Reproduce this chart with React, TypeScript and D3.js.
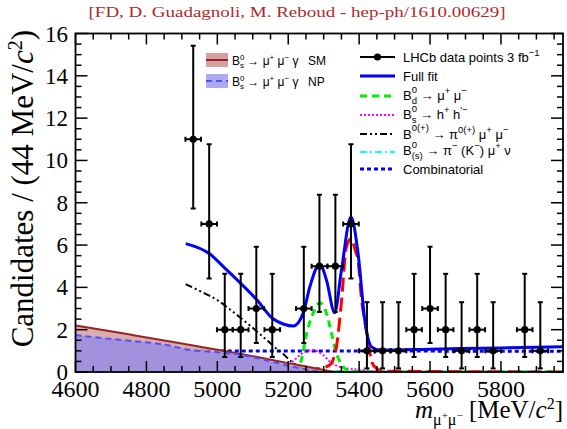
import React from 'react';
import * as d3 from 'd3';

// LHCb B(s) -> mu mu candidates with the B_s -> mu mu gamma contributions overlaid

const binCenters = [4932, 4977, 5021, 5066, 5110, 5155, 5244, 5288, 5333, 5377, 5422, 5466, 5511, 5555, 5600, 5644, 5689, 5733, 5778, 5867, 5911];
const counts = [11, 7, 2, 2, 3, 2, 3, 5, 5, 7, 1, 1, 1, 2, 3, 2, 1, 2, 1, 2, 1];
const errLow = [3.27, 2.58, 1.29, 1.29, 1.63, 1.29, 1.63, 2.16, 2.16, 2.58, 0.83, 0.83, 0.83, 1.29, 1.63, 1.29, 0.83, 1.29, 0.83, 1.29, 0.83];
const errHigh = [4.42, 3.77, 2.64, 2.64, 2.92, 2.64, 2.92, 3.38, 3.38, 3.77, 2.3, 2.3, 2.3, 2.64, 2.92, 2.64, 2.3, 2.64, 2.3, 2.64, 2.3];
const binHalf = 22;

const fullFit = [
  [4911, 6.07], [4977, 5.6], [5022, 4.9], [5066, 4.19], [5112, 3.4], [5156, 2.53], [5186, 2.27],
  [5214, 2.17], [5242, 2.77], [5261, 4.03], [5289, 5.1], [5308, 4.34], [5331, 2.8], [5350, 4.8],
  [5377, 7.33], [5397, 5.6], [5416, 2.45], [5435, 1.19], [5458, 1.04], [5600, 1.08], [5800, 1.14], [5975, 1.19],
];
const bdMuMu = [
  [4911, 0], [5180, 0.01], [5221, 0.05], [5237, 0.57], [5252, 1.83], [5270, 2.77], [5289, 3.27],
  [5308, 2.77], [5322, 1.83], [5336, 0.88], [5355, 0.25], [5374, 0.05], [5420, 0], [5975, 0],
];
const bsMuMu = [
  [4911, 0.02], [5150, 0.04], [5250, 0.1], [5290, 0.17], [5317, 0.33], [5336, 1.2], [5350, 3.3],
  [5364, 5.9], [5377, 6.3], [5390, 5.7], [5397, 5.28], [5407, 3.4], [5416, 2.4], [5425, 1.5],
  [5435, 0.5], [5449, 0.17], [5470, 0.04], [5975, 0],
];
const bsHH = [
  [4911, 0.03], [5150, 0.1], [5190, 0.25], [5205, 0.38], [5220, 0.6], [5237, 0.85], [5255, 1.0],
  [5270, 1.04], [5285, 0.95], [5300, 0.78], [5317, 0.5], [5336, 0.3], [5355, 0.2], [5375, 0.15],
  [5410, 0.09], [5450, 0.04], [5500, 0.01], [5975, 0],
];
const bPiMuMu = [
  [4911, 4.15], [4960, 3.75], [5000, 3.4], [5040, 2.9], [5092, 2.2], [5130, 1.65], [5167, 1.1],
  [5186, 0.85], [5205, 0.55], [5225, 0.3], [5245, 0.12], [5270, 0.04], [5300, 0.01], [5975, 0],
];
const bPiMuNu = [
  [4911, 0.9], [5000, 0.75], [5100, 0.55], [5200, 0.3], [5280, 0.1], [5350, 0.04], [5975, 0.03],
];
const combinatorial = [[4911, 1.0], [5975, 0.98]];

const smGamma = [
  [4600, 2.2], [4750, 1.78], [4900, 1.35], [5000, 1.05], [5100, 0.75], [5200, 0.42], [5300, 0.1], [5330, 0],
];
const npGamma = [
  [4600, 1.75], [4650, 1.65], [4750, 1.48], [4850, 1.3], [4920, 1.05], [5000, 0.93], [5050, 0.85],
  [5100, 0.7], [5150, 0.5], [5200, 0.3], [5250, 0.12], [5300, 0.02],
];

const xTicks = [4600, 4800, 5000, 5200, 5400, 5600, 5800];
const yTicks = [0, 2, 4, 6, 8, 10, 12, 14, 16];

const W = 567, H = 429;
const PL = 75.5, PR = 563, PT = 33.5, PB = 372;

const SM_FILL = '#d4a0a0';
const NP_FILL = '#9a8ee4';

export default function App() {
  const x = d3.scaleLinear().domain([4600, 5975]).range([PL, PR]);
  const y = d3.scaleLinear().domain([0, 16]).range([PB, PT]);

  const line = d3.line<number[]>().x(d => x(d[0])).y(d => y(d[1])).curve(d3.curveMonotoneX);
  const area = d3.area<number[]>().x(d => x(d[0])).y0(y(0)).y1(d => y(d[1])).curve(d3.curveMonotoneX);

  const xMinor = d3.range(4600, 5976, 50);
  const yMinor = d3.range(0, 16.01, 0.5);

  const serif = '"Liberation Serif", "Times New Roman", serif';
  const sans = '"Liberation Sans", Arial, sans-serif';

  const lx0 = 360, lx1 = 395, tx = 403;
  const rows = [57, 76, 96, 115, 134, 152, 169];
  const fs = 13, ss = 9.5;

  return (
    <svg width={W} height={H} style={{ position: 'absolute', left: 0, top: 0, background: '#fff' }}>
      <defs>
        <clipPath id="plot">
          <rect x={PL} y={PT} width={PR - PL} height={PB - PT} />
        </clipPath>
      </defs>

      <text x={297} y={17} textAnchor="middle" fontFamily={serif} fontSize={15} fill="#b02a2a"
        textLength={417} lengthAdjust="spacingAndGlyphs">
        [FD, D. Guadagnoli, M. Reboud - hep-ph/1610.00629]
      </text>

      <g clipPath="url(#plot)">
        <path d={line(combinatorial) || ''} fill="none" stroke="#0000ff" strokeWidth={3} strokeDasharray="4,3" />
        <path d={line(bPiMuNu) || ''} fill="none" stroke="#00ffff" strokeWidth={2} strokeDasharray="7,3,2,3" />
        <path d={line(bPiMuMu) || ''} fill="none" stroke="#000" strokeWidth={2} strokeDasharray="7,3,2,3,2,3" />
        <path d={line(bsHH) || ''} fill="none" stroke="#ff00ff" strokeWidth={2} strokeDasharray="2,2" />
        <path d={line(bdMuMu) || ''} fill="none" stroke="#00ee00" strokeWidth={3} strokeDasharray="7,5" />
        <path d={line(bsMuMu) || ''} fill="none" stroke="#ff0000" strokeWidth={3} strokeDasharray="14,6" />

        <path d={area(smGamma) || ''} fill={SM_FILL} fillOpacity={0.85} />
        <path d={area(npGamma) || ''} fill={NP_FILL} fillOpacity={0.88} />
        <path d={line(smGamma) || ''} fill="none" stroke="#9a2222" strokeWidth={2} />
        <path d={line(npGamma) || ''} fill="none" stroke="#5050ff" strokeWidth={2} strokeDasharray="6,4" />

        <path d={line(fullFit) || ''} fill="none" stroke="#0000ff" strokeWidth={3} />

        {binCenters.map((m, i) => {
          const cx = x(m), cy = y(counts[i]);
          const yt = y(counts[i] + errHigh[i]), yb = y(counts[i] - errLow[i]);
          const xl = x(m - binHalf), xr = x(m + binHalf);
          return (
            <g key={m} stroke="#000" strokeWidth={2}>
              <line x1={cx} x2={cx} y1={yt} y2={yb} />
              <line x1={xl} x2={xr} y1={cy} y2={cy} />
              <line x1={cx - 2.5} x2={cx + 2.5} y1={yt} y2={yt} />
              <line x1={cx - 2.5} x2={cx + 2.5} y1={yb} y2={yb} />
              <line x1={xl} x2={xl} y1={cy - 2.5} y2={cy + 2.5} />
              <line x1={xr} x2={xr} y1={cy - 2.5} y2={cy + 2.5} />
              <circle cx={cx} cy={cy} r={3.6} fill="#000" stroke="none" />
            </g>
          );
        })}
      </g>

      {/* axes frame and ticks */}
      <rect x={PL} y={PT} width={PR - PL} height={PB - PT} fill="none" stroke="#000" strokeWidth={1.8} />
      <g stroke="#000" strokeWidth={1.5}>
        {xMinor.map(v => {
          const len = v % 200 === 0 ? 11 : 6;
          return (
            <g key={'xt' + v}>
              <line x1={x(v)} x2={x(v)} y1={PB} y2={PB - len} />
              <line x1={x(v)} x2={x(v)} y1={PT} y2={PT + len} />
            </g>
          );
        })}
        {yMinor.map(v => {
          const len = v % 2 === 0 ? 12 : 6;
          return (
            <g key={'yt' + v}>
              <line x1={PL} x2={PL + len} y1={y(v)} y2={y(v)} />
              <line x1={PR} x2={PR - len} y1={y(v)} y2={y(v)} />
            </g>
          );
        })}
      </g>
      {xTicks.map(v => (
        <text key={'xl' + v} x={x(v)} y={397} textAnchor="middle" fontFamily={serif} fontSize={24}>{v}</text>
      ))}
      {yTicks.map(v => (
        <text key={'yl' + v} x={68} y={y(v) + 8} textAnchor="end" fontFamily={serif} fontSize={23}>{v}</text>
      ))}

      <text transform="translate(33,30) rotate(-90)" textAnchor="end" fontFamily={serif} fontSize={31}>
        Candidates / (44 MeV/<tspan fontStyle="italic">c</tspan><tspan dy={-11} fontSize={20}>2</tspan><tspan dy={11}>)</tspan>
      </text>
      <text x={563} y={418} textAnchor="end" fontFamily={serif} fontSize={25}>
        <tspan fontStyle="italic">m</tspan>
        <tspan dy={7} fontSize={16}>μ</tspan><tspan dy={-6} fontSize={11}>+</tspan>
        <tspan dy={6} fontSize={16}>μ</tspan><tspan dy={-6} fontSize={11}>−</tspan>
        <tspan dy={-1}> [MeV/</tspan><tspan fontStyle="italic">c</tspan><tspan dy={-9} fontSize={16}>2</tspan><tspan dy={9}>]</tspan>
      </text>

      {/* left legend: radiative contributions */}
      <rect x={206} y={53} width={22} height={14} fill={SM_FILL} />
      <line x1={206} x2={228} y1={60} y2={60} stroke="#9a2222" strokeWidth={2} />
      <rect x={206} y={74} width={22} height={14} fill="#aeaaf2" />
      <line x1={206} x2={228} y1={81} y2={81} stroke="#5050ff" strokeWidth={2} strokeDasharray="6,4" />
      {[{ yy: 64.5, lab: 'SM' }, { yy: 85.5, lab: 'NP' }].map(r => (
        <g key={r.lab} fontFamily={sans} fontSize={12} fill="#000">
          <text x={232} y={r.yy}>
            B<tspan dy={-5} fontSize={8}>0</tspan><tspan dx={-4.5} dy={8} fontSize={8}>s</tspan>
            <tspan dy={-3}> → μ</tspan><tspan dy={-5} fontSize={8}>+</tspan><tspan dy={5}> μ</tspan>
            <tspan dy={-5} fontSize={8}>−</tspan><tspan dy={5}> γ</tspan>
          </text>
          <text x={308} y={r.yy}>{r.lab}</text>
        </g>
      ))}

      {/* right legend */}
      <g>
        <line x1={lx0} x2={lx1} y1={rows[0]} y2={rows[0]} stroke="#000" strokeWidth={2} />
        <circle cx={(lx0 + lx1) / 2} cy={rows[0]} r={3.6} fill="#000" />
        <line x1={lx0} x2={lx1} y1={rows[1]} y2={rows[1]} stroke="#0000ff" strokeWidth={3} />
        <line x1={lx0} x2={lx1} y1={rows[2]} y2={rows[2]} stroke="#00ee00" strokeWidth={3} strokeDasharray="7,5" />
        <line x1={lx0} x2={lx1} y1={rows[3]} y2={rows[3]} stroke="#ff00ff" strokeWidth={2} strokeDasharray="2,2" />
        <line x1={lx0} x2={lx1} y1={rows[4]} y2={rows[4]} stroke="#000" strokeWidth={2} strokeDasharray="7,3,2,3,2,3" />
        <line x1={lx0} x2={lx1} y1={rows[5]} y2={rows[5]} stroke="#00ffff" strokeWidth={2} strokeDasharray="7,3,2,3" />
        <line x1={lx0} x2={lx1} y1={rows[6]} y2={rows[6]} stroke="#0000ff" strokeWidth={3} strokeDasharray="4,3" />
      </g>
      <g fontFamily={sans} fontSize={fs} fill="#000">
        <text x={tx} y={rows[0] + 5}>LHCb data points 3 fb<tspan dy={-6} fontSize={ss}>−1</tspan></text>
        <text x={tx} y={rows[1] + 5}>Full fit</text>
        <text x={tx} y={rows[2] + 4}>
          B<tspan dy={-7} fontSize={ss}>0</tspan><tspan dx={-5.3} dy={11} fontSize={ss}>d</tspan>
          <tspan dy={-4}> → μ</tspan><tspan dy={-6} fontSize={ss}>+</tspan><tspan dy={6}> μ</tspan><tspan dy={-6} fontSize={ss}>−</tspan>
        </text>
        <text x={tx} y={rows[3] + 4}>
          B<tspan dy={-7} fontSize={ss}>0</tspan><tspan dx={-5.3} dy={11} fontSize={ss}>s</tspan>
          <tspan dy={-4}> → h</tspan><tspan dy={-6} fontSize={ss}>+</tspan><tspan dy={6}> h</tspan><tspan dy={-6} fontSize={ss}>'−</tspan>
        </text>
        <text x={tx} y={rows[4] + 5}>
          B<tspan dy={-8} fontSize={ss}>0(+)</tspan>
          <tspan dy={8}> → π</tspan><tspan dy={-6} fontSize={ss}>0(+)</tspan><tspan dy={6}> μ</tspan>
          <tspan dy={-6} fontSize={ss}>+</tspan><tspan dy={6}> μ</tspan><tspan dy={-6} fontSize={ss}>−</tspan>
        </text>
        <text x={tx} y={rows[5] + 3}>
          B<tspan dy={-7} fontSize={ss}>0</tspan><tspan dx={-5.3} dy={11} fontSize={ss}>(s)</tspan>
          <tspan dy={-4}> → π</tspan><tspan dy={-6} fontSize={ss}>−</tspan><tspan dy={6}> (K</tspan>
          <tspan dy={-6} fontSize={ss}>−</tspan><tspan dy={6}>) μ</tspan><tspan dy={-6} fontSize={ss}>+</tspan>
          <tspan dy={6}> ν</tspan>
        </text>
        <text x={tx} y={rows[6] + 5}>Combinatorial</text>
      </g>
    </svg>
  );
}
